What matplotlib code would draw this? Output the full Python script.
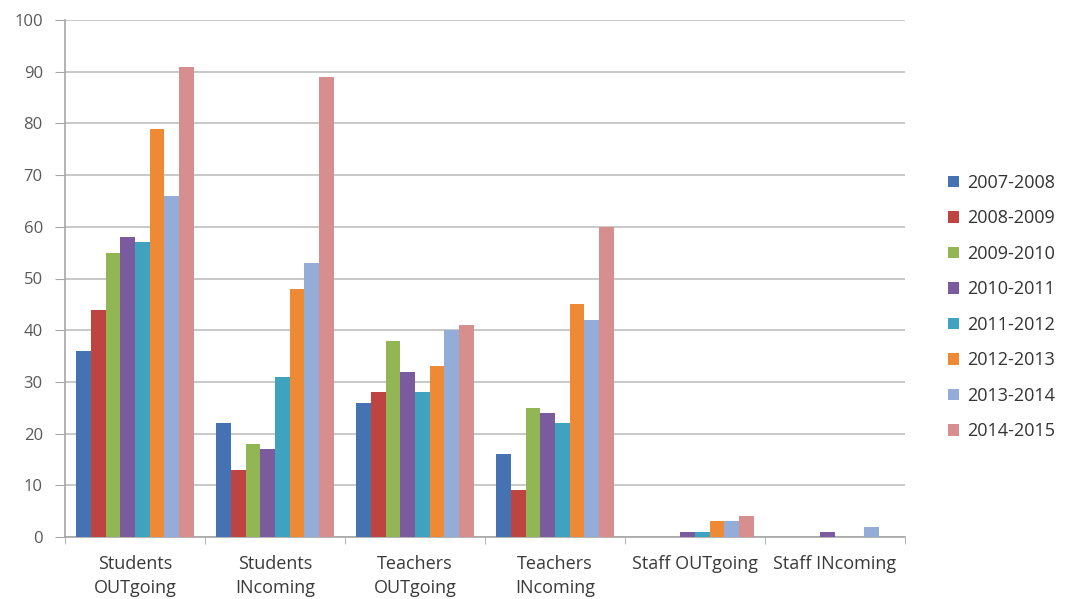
import numpy as np
import matplotlib
matplotlib.use('Agg')
import matplotlib.pyplot as plt
from matplotlib.patches import Patch

plt.rcParams['font.family'] = ['Open Sans', 'DejaVu Sans']

categories = ['Students\nOUTgoing', 'Students\nINcoming', 'Teachers\nOUTgoing',
              'Teachers\nINcoming', 'Staff OUTgoing', 'Staff INcoming']
years = ['2007-2008', '2008-2009', '2009-2010', '2010-2011',
         '2011-2012', '2012-2013', '2013-2014', '2014-2015']

# one list per school year, values in category order
v_2007 = [36, 22, 26, 16, 0, 0]
v_2008 = [44, 13, 28, 9, 0, 0]
v_2009 = [55, 18, 38, 25, 0, 0]
v_2010 = [58, 17, 32, 24, 1, 1]
v_2011 = [57, 31, 28, 22, 1, 0]
v_2012 = [79, 48, 33, 45, 3, 0]
v_2013 = [66, 53, 40, 42, 3, 2]
v_2014 = [91, 89, 41, 60, 4, 0]
series = [v_2007, v_2008, v_2009, v_2010, v_2011, v_2012, v_2013, v_2014]

colors = ['#4572B2', '#BD4441', '#93B655', '#7A5C9E', '#3FA3BF',
          '#EE8A35', '#93ADD8', '#D68F8E']

fig = plt.figure(figsize=(10.67, 5.99), dpi=100)
ax = fig.add_axes([65 / 1067, 62 / 599, 840 / 1067, 517 / 599])

x = np.arange(len(categories))
w = 0.105
for j, (vals, c) in enumerate(zip(series, colors)):
    ax.bar(x + (j - 3.5) * w, vals, width=w, color=c, label=years[j], zorder=3)

ax.set_xlim(-0.5, len(categories) - 0.5)
ax.set_ylim(0, 100)
ax.set_yticks(range(0, 101, 10))
ax.yaxis.grid(True, color='#BFBFBF', linewidth=1.2, zorder=0)

for side in ['top', 'right']:
    ax.spines[side].set_visible(False)
for side in ['left', 'bottom']:
    ax.spines[side].set_color('#A6A6A6')
    ax.spines[side].set_linewidth(1.2)

ax.set_xticks(x)
ax.set_xticklabels(categories, fontsize=13, color='#3A3A3A', linespacing=1.45)
ax.tick_params(axis='x', which='major', length=0, pad=13)
ax.set_xticks(np.arange(-0.5, len(categories), 1), minor=True)
ax.tick_params(axis='x', which='minor', length=5, color='#A6A6A6')
ax.tick_params(axis='y', length=7, color='#A6A6A6', labelsize=12,
               labelcolor='#595959', pad=9)

handles = [Patch(facecolor=c, label=y) for c, y in zip(colors, years)]
fig.legend(handles=handles, loc='center left',
           bbox_to_anchor=(932 / 1067, 1 - 307 / 599), frameon=False,
           fontsize=13, labelspacing=0.97, handlelength=0.6,
           handleheight=0.6, handletextpad=0.45, labelcolor='#333333')

fig.savefig('out.png', dpi=100)
